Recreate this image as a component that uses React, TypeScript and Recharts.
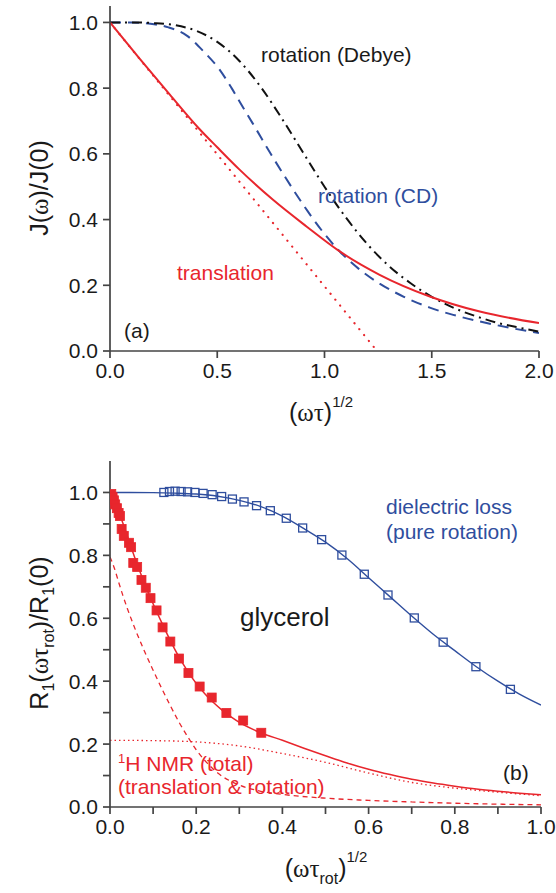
import React from "react";
import { ComposedChart, Line, Scatter, XAxis, YAxis } from "recharts";

// ---------- Panel (a) ----------
const aTicksX = [0, 0.5, 1.0, 1.5, 2.0];
const aTicksY = [0, 0.2, 0.4, 0.6, 0.8, 1.0];

const debyeX = [0, 0.1, 0.2, 0.3, 0.4, 0.5, 0.6, 0.7, 0.8, 0.9, 1.0, 1.1, 1.2, 1.3, 1.4, 1.5, 1.6, 1.7, 1.8, 1.9, 2.0];
const debyeY = [1, 1.0, 0.998, 0.992, 0.975, 0.941, 0.885, 0.806, 0.709, 0.604, 0.5, 0.406, 0.325, 0.259, 0.207, 0.165, 0.132, 0.107, 0.087, 0.072, 0.059];

const cdX = [0, 0.1, 0.188, 0.273, 0.358, 0.436, 0.51, 0.567, 0.617, 0.666, 0.752, 0.814, 0.861, 0.923, 0.993, 1.071, 1.16, 1.257, 1.37, 1.491, 1.6, 1.724, 1.86, 2.0];
const cdY = [1, 1.0, 0.996, 0.985, 0.96, 0.912, 0.857, 0.8, 0.745, 0.692, 0.597, 0.532, 0.484, 0.424, 0.362, 0.303, 0.25, 0.205, 0.165, 0.132, 0.11, 0.09, 0.071, 0.055];

const transX = [0, 0.138, 0.278, 0.418, 0.5, 0.604, 0.76, 0.916, 1.071, 1.257, 1.491, 1.724, 2.0];
const transY = [1, 0.89, 0.781, 0.675, 0.62, 0.552, 0.46, 0.379, 0.303, 0.232, 0.166, 0.12, 0.085];

const slopeX = [0, 1.245];
const slopeY = [1, 0];

// ---------- Panel (b) ----------
const bTicksX = [0, 0.1, 0.2, 0.3, 0.4, 0.5, 0.6, 0.7, 0.8, 0.9, 1.0];
const bTicksY = [0, 0.1, 0.2, 0.3, 0.4, 0.5, 0.6, 0.7, 0.8, 0.9, 1.0];

const dielX = [0.125, 0.138, 0.151, 0.165, 0.18, 0.197, 0.216, 0.237, 0.259, 0.284, 0.311, 0.34, 0.372, 0.409, 0.447, 0.491, 0.538, 0.59, 0.645, 0.706, 0.773, 0.849, 0.929];
const dielY = [1.0, 1.003, 1.004, 1.003, 1.002, 1.0, 0.997, 0.993, 0.987, 0.979, 0.97, 0.958, 0.942, 0.918, 0.887, 0.85, 0.801, 0.74, 0.674, 0.601, 0.524, 0.446, 0.374];

const dielFitX = [0, 0.1, 0.15, 0.2, 0.25, 0.3, 0.35, 0.4, 0.45, 0.5, 0.55, 0.6, 0.65, 0.7, 0.75, 0.8, 0.85, 0.9, 0.95, 1.0];
const dielFitY = [1, 0.9995, 0.998, 0.995, 0.988, 0.975, 0.955, 0.925, 0.885, 0.842, 0.79, 0.729, 0.668, 0.607, 0.549, 0.497, 0.446, 0.4, 0.359, 0.324];

const nmrX = [0.003, 0.006, 0.009, 0.012, 0.016, 0.02, 0.023, 0.027, 0.032, 0.044, 0.049, 0.054, 0.063, 0.073, 0.083, 0.094, 0.108, 0.122, 0.14, 0.16, 0.182, 0.208, 0.236, 0.27, 0.309, 0.351];
const nmrY = [0.995, 0.985, 0.975, 0.962, 0.95, 0.935, 0.925, 0.884, 0.862, 0.84, 0.826, 0.776, 0.763, 0.722, 0.697, 0.664, 0.625, 0.571, 0.526, 0.472, 0.426, 0.383, 0.348, 0.299, 0.275, 0.236];

const nmrFitX = [0, 0.01, 0.02, 0.03, 0.04, 0.05, 0.06, 0.07, 0.08, 0.09, 0.1, 0.12, 0.14, 0.16, 0.18, 0.2, 0.22, 0.24, 0.26, 0.28, 0.3, 0.35, 0.4, 0.45, 0.5, 0.55, 0.6, 0.65, 0.7, 0.75, 0.8, 0.85, 0.9, 0.95, 1.0];
const nmrFitY = [1.0, 0.972, 0.94, 0.902, 0.862, 0.822, 0.783, 0.746, 0.711, 0.678, 0.646, 0.586, 0.529, 0.477, 0.432, 0.393, 0.36, 0.332, 0.308, 0.287, 0.269, 0.236, 0.212, 0.187, 0.163, 0.14, 0.12, 0.103, 0.088, 0.076, 0.066, 0.057, 0.05, 0.044, 0.039];

const rotPartX = [0, 0.01, 0.02, 0.03, 0.04, 0.05, 0.06, 0.08, 0.1, 0.12, 0.14, 0.16, 0.18, 0.2, 0.22, 0.25, 0.3, 0.35, 0.4, 0.5, 0.6, 0.7, 0.8, 0.9, 1.0];
const rotPartY = [0.795, 0.76, 0.715, 0.672, 0.632, 0.595, 0.56, 0.495, 0.435, 0.377, 0.322, 0.27, 0.224, 0.182, 0.148, 0.108, 0.07, 0.05, 0.04, 0.028, 0.021, 0.016, 0.012, 0.009, 0.007];

const transPartX = [0, 0.1, 0.2, 0.3, 0.4, 0.5, 0.6, 0.7, 0.8, 0.9, 1.0];
const transPartY = [0.212, 0.211, 0.207, 0.194, 0.17, 0.142, 0.108, 0.078, 0.06, 0.047, 0.036];

const zip = (xs: number[], ys: number[]) => xs.map((x, i) => ({ x, y: ys[i] }));

const FONT = "'Liberation Sans', Arial, Helvetica, sans-serif";
const SERIF = "'Liberation Serif', 'Times New Roman', serif";
const AX = "#444";
const RED = "#e8262d";
const BLUE = "#2f4e9e";
const TXT = "#1a1a1a";

const tickStyle = { fill: TXT, fontSize: 21, fontFamily: FONT };
const fmt1 = (v: number) => v.toFixed(1);
const fmtEven = (v: number) => (Math.round(v * 10) % 2 === 0 ? v.toFixed(1) : "");
const blank = () => "";

const OpenSquare = (props: any) => {
  const { cx, cy } = props;
  if (cx == null || cy == null) return null;
  return <rect x={cx - 4} y={cy - 4} width={8} height={8} fill="none" stroke={BLUE} strokeWidth={1.3} />;
};
const FilledSquare = (props: any) => {
  const { cx, cy } = props;
  if (cx == null || cy == null) return null;
  return <rect x={cx - 4.5} y={cy - 4.5} width={9} height={9} fill={RED} stroke={RED} strokeWidth={0.8} />;
};

function PanelA() {
  return (
    <ComposedChart width={556} height={440} margin={{ top: 6, right: 17, bottom: 29, left: 50 }}>
      <XAxis xAxisId="b" dataKey="x" type="number" domain={[0, 2]} ticks={aTicksX} allowDataOverflow
        stroke={AX} strokeWidth={1.7} tickSize={7} tickMargin={5} height={60} tick={tickStyle} tickFormatter={fmt1} />
      <XAxis xAxisId="t" orientation="top" dataKey="x" type="number" domain={[0, 2]} ticks={aTicksX} mirror
        stroke={AX} strokeWidth={1.7} tickSize={6} height={0} tickFormatter={blank} />
      <YAxis yAxisId="l" dataKey="y" type="number" domain={[0, 1.05]} ticks={aTicksY} allowDataOverflow
        stroke={AX} strokeWidth={1.7} tickSize={7} tickMargin={5} width={60} tick={tickStyle} tickFormatter={fmt1} />
      <YAxis yAxisId="r" orientation="right" dataKey="y" type="number" domain={[0, 1.05]} ticks={aTicksY} mirror
        stroke={AX} strokeWidth={1.7} tickSize={6} width={0} tickFormatter={blank} />
      <Line xAxisId="b" yAxisId="l" data={zip(slopeX, slopeY)} dataKey="y" type="linear" stroke={RED} strokeWidth={2.2}
        strokeDasharray="0.1 7.5" strokeLinecap="round" dot={false} isAnimationActive={false} />
      <Line xAxisId="b" yAxisId="l" data={zip(cdX, cdY)} dataKey="y" type="monotone" stroke={BLUE} strokeWidth={2}
        strokeDasharray="11 7" dot={false} isAnimationActive={false} />
      <Line xAxisId="b" yAxisId="l" data={zip(debyeX, debyeY)} dataKey="y" type="monotone" stroke="#111" strokeWidth={2}
        strokeDasharray="10 5 2 5" dot={false} isAnimationActive={false} />
      <Line xAxisId="b" yAxisId="l" data={zip(transX, transY)} dataKey="y" type="monotone" stroke={RED} strokeWidth={2}
        dot={false} isAnimationActive={false} />
    </ComposedChart>
  );
}

function PanelB() {
  return (
    <ComposedChart width={556} height={443} margin={{ top: 11, right: 15, bottom: 26, left: 50 }}>
      <XAxis xAxisId="b" dataKey="x" type="number" domain={[0, 1]} ticks={bTicksX} allowDataOverflow
        stroke={AX} strokeWidth={1.7} tickSize={7} tickMargin={5} height={60} tick={tickStyle} tickFormatter={fmtEven} />
      <XAxis xAxisId="t" orientation="top" dataKey="x" type="number" domain={[0, 1]} ticks={bTicksX} mirror
        stroke={AX} strokeWidth={1.7} tickSize={6} height={0} tickFormatter={blank} />
      <YAxis yAxisId="l" dataKey="y" type="number" domain={[0, 1.1]} ticks={bTicksY} allowDataOverflow
        stroke={AX} strokeWidth={1.7} tickSize={7} tickMargin={5} width={60} tick={tickStyle} tickFormatter={fmtEven} />
      <YAxis yAxisId="r" orientation="right" dataKey="y" type="number" domain={[0, 1.1]} ticks={bTicksY} mirror
        stroke={AX} strokeWidth={1.7} tickSize={6} width={0} tickFormatter={blank} />
      <Line xAxisId="b" yAxisId="l" data={zip(transPartX, transPartY)} dataKey="y" type="monotone" stroke={RED} strokeWidth={1.3}
        strokeDasharray="1.5 3" dot={false} isAnimationActive={false} />
      <Line xAxisId="b" yAxisId="l" data={zip(rotPartX, rotPartY)} dataKey="y" type="monotone" stroke={RED} strokeWidth={1.3}
        strokeDasharray="5 4" dot={false} isAnimationActive={false} />
      <Line xAxisId="b" yAxisId="l" data={zip(dielFitX, dielFitY)} dataKey="y" type="monotone" stroke={BLUE} strokeWidth={1.4}
        dot={false} isAnimationActive={false} />
      <Line xAxisId="b" yAxisId="l" data={zip(nmrFitX, nmrFitY)} dataKey="y" type="monotone" stroke={RED} strokeWidth={1.5}
        dot={false} isAnimationActive={false} />
      <Scatter xAxisId="b" yAxisId="l" data={zip(dielX, dielY)} dataKey="y" shape={OpenSquare} isAnimationActive={false} />
      <Scatter xAxisId="b" yAxisId="l" data={zip(nmrX, nmrY)} dataKey="y" shape={FilledSquare} isAnimationActive={false} />
    </ComposedChart>
  );
}

function Overlay() {
  return (
    <svg width={556} height={893} style={{ position: "absolute", left: 0, top: 0, pointerEvents: "none" }}
      fontFamily={FONT}>
      {/* panel (a) */}
      <text x={261} y={62} fontSize={21} fill={TXT}>rotation (Debye)</text>
      <text x={318} y={203} fontSize={21} fill={BLUE}>rotation (CD)</text>
      <text x={177} y={280} fontSize={21} fill={RED}>translation</text>
      <text x={124} y={338} fontSize={21} fill={TXT}>(a)</text>
      <text transform="translate(48,188) rotate(-90)" textAnchor="middle" fontSize={25} fill={TXT}>
        J(<tspan fontFamily={SERIF}>ω</tspan>)/J(0)
      </text>
      <text x={321} y={421} textAnchor="middle" fontSize={25} fill={TXT}>
        (<tspan fontFamily={SERIF}>ωτ</tspan>)<tspan dy={-14} fontSize={15}>1/2</tspan>
      </text>

      {/* panel (b) */}
      <text x={240} y={626} fontSize={26} fill={TXT}>glycerol</text>
      <text x={386} y={514} fontSize={21} fill={BLUE}>dielectric loss</text>
      <text x={386} y={539} fontSize={21} fill={BLUE}>(pure rotation)</text>
      <text x={503} y={780} fontSize={21} fill={TXT}>(b)</text>
      <text x={118} y={771} fontSize={21} fill={RED}>
        <tspan dy={-8} fontSize={13}>1</tspan><tspan dy={8}>H NMR (total)</tspan>
      </text>
      <text x={118} y={794} fontSize={21} fill={RED}>(translation &amp; rotation)</text>
      <text transform="translate(48,633) rotate(-90)" textAnchor="middle" fontSize={25} fill={TXT}>
        R<tspan dy={6} fontSize={16}>1</tspan><tspan dy={-6}>(</tspan><tspan fontFamily={SERIF}>ωτ</tspan>
        <tspan dy={6} fontSize={16}>rot</tspan><tspan dy={-6}>)/R</tspan><tspan dy={6} fontSize={16}>1</tspan>
        <tspan dy={-6}>(0)</tspan>
      </text>
      <text x={326} y={877} textAnchor="middle" fontSize={25} fill={TXT}>
        (<tspan fontFamily={SERIF}>ωτ</tspan><tspan dy={7} fontSize={16}>rot</tspan><tspan dy={-7}>)</tspan>
        <tspan dy={-15} fontSize={15}>1/2</tspan>
      </text>
    </svg>
  );
}

export default function App() {
  return (
    <div style={{ position: "absolute", left: 0, top: 0, width: 556, height: 893, background: "#fff", fontFamily: FONT }}>
      <div style={{ position: "absolute", left: 0, top: 0 }}>
        <PanelA />
      </div>
      <div style={{ position: "absolute", left: 0, top: 450 }}>
        <PanelB />
      </div>
      <Overlay />
    </div>
  );
}
